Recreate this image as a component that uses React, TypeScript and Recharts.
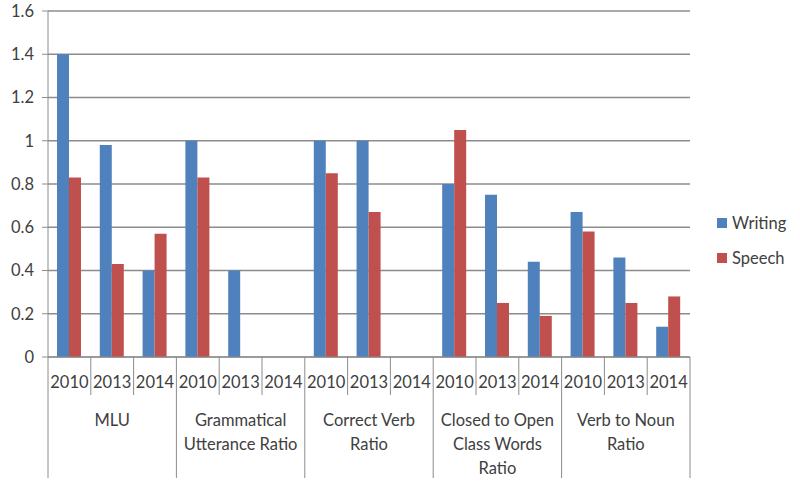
import React from "react";
import { BarChart, Bar, XAxis, YAxis, CartesianGrid } from "recharts";

const groupLabels = [
  ["MLU"],
  ["Grammatical", "Utterance Ratio"],
  ["Correct Verb", "Ratio"],
  ["Closed to Open", "Class Words", "Ratio"],
  ["Verb to Noun", "Ratio"],
];
const years = ["2010", "2013", "2014"];

const writing = [1.4, 0.98, 0.4, 1.0, 0.4, 0, 1.0, 1.0, 0, 0.8, 0.75, 0.44, 0.67, 0.46, 0.14];
const speech = [0.83, 0.43, 0.57, 0.83, 0, 0, 0.85, 0.67, 0, 1.05, 0.25, 0.19, 0.58, 0.25, 0.28];

const yTicks = [0, 0.2, 0.4, 0.6, 0.8, 1, 1.2, 1.4, 1.6];

const series = [
  { key: "writing", name: "Writing", color: "#4f81bd" },
  { key: "speech", name: "Speech", color: "#c0504d" },
];

const data = writing.map((w, i) => ({
  key: `${Math.floor(i / years.length)}-${years[i % years.length]}`,
  year: years[i % years.length],
  group: Math.floor(i / years.length),
  writing: w,
  speech: speech[i],
}));

const W = 800;
const H = 486;
const M_RIGHT = 110;
const Y_W = 48;
const BAND = (W - Y_W - M_RIGHT) / data.length;
const GRID = "#8c8c8c";
const TEXT = "#404040";
const FONT = "Lato, 'Open Sans', sans-serif";

const CategoryTick = (props: any) => {
  const { x, y, payload } = props;
  const i = payload.index;
  const d = data[i];
  const left = x - BAND / 2;
  const right = x + BAND / 2;
  const first = i % years.length === 0;
  const last = i === data.length - 1;
  const middle = i % years.length === 1;
  const lines = groupLabels[d.group];
  return (
    <g>
      <line x1={left} x2={left} y1={y} y2={first ? y + 121 : y + 38} stroke={GRID} />
      {last && <line x1={right} x2={right} y1={y} y2={y + 121} stroke={GRID} />}
      <text x={x} y={y + 31} textAnchor="middle" fill={TEXT} fontSize={16.5} fontFamily={FONT}>
        {d.year}
      </text>
      {middle &&
        lines.map((t, k) => (
          <text key={k} x={x} y={y + 69 + k * 24} textAnchor="middle" fill={TEXT} fontSize={16.5} fontFamily={FONT}>
            {t}
          </text>
        ))}
    </g>
  );
};

export default function App() {
  return (
    <div style={{ position: "absolute", left: 0, top: 0, width: W, height: H, background: "#fff" }}>
      <BarChart
        width={W}
        height={H}
        data={data}
        margin={{ top: 11, right: M_RIGHT, left: 0, bottom: 0 }}
        barCategoryGap="21%"
        barGap={0}
      >
        <CartesianGrid vertical={false} stroke={GRID} strokeWidth={1.5} />
        <XAxis
          dataKey="key"
          interval={0}
          height={129}
          tickSize={0}
          tickMargin={0}
          tickLine={false}
          axisLine={{ stroke: GRID }}
          tick={<CategoryTick />}
        />
        <YAxis
          width={Y_W}
          domain={[0, 1.6]}
          ticks={yTicks}
          interval={0}
          tickSize={6}
          tickMargin={8}
          axisLine={{ stroke: GRID }}
          tickLine={{ stroke: GRID }}
          tick={{ fill: TEXT, fontSize: 16.5, fontFamily: FONT }}
        />
        {series.map((s) => (
          <Bar key={s.key} dataKey={s.key} name={s.name} fill={s.color} isAnimationActive={false} />
        ))}
      </BarChart>
      <div style={{ position: "absolute", left: 717, top: 205, fontFamily: FONT, fontSize: 16.5, color: TEXT }}>
        {series.map((s) => (
          <div key={s.key} style={{ display: "flex", alignItems: "center", height: 35 }}>
            <span style={{ width: 10, height: 10, background: s.color, display: "inline-block", marginRight: 5 }} />
            <span>{s.name}</span>
          </div>
        ))}
      </div>
    </div>
  );
}
